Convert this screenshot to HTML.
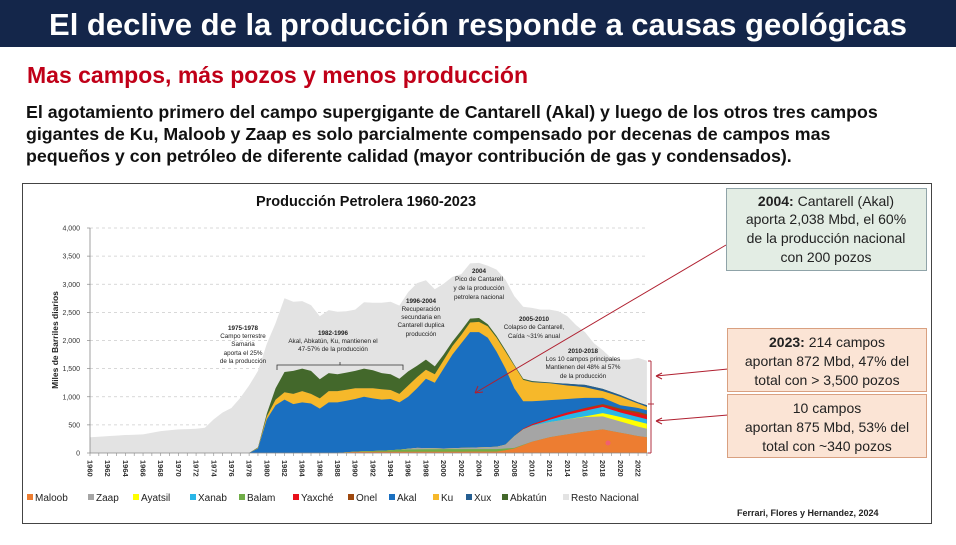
<!DOCTYPE html>
<html><head><meta charset="utf-8"><style>
body{margin:0;width:956px;height:540px;overflow:hidden;background:#fff;font-family:"Liberation Sans",sans-serif}
</style></head><body>
<svg id="s" width="956" height="540" xmlns="http://www.w3.org/2000/svg" font-family="Liberation Sans, sans-serif">
<rect x="0" y="0" width="956" height="47" fill="#14264a"/>
<text x="478" y="35" text-anchor="middle" fill="#fff" font-size="31" font-weight="bold">El declive de la producción responde a causas geológicas</text>
<text x="27" y="83" fill="#c00018" font-size="23" font-weight="bold">Mas campos, más pozos y menos producción</text>
<g font-size="17.8" font-weight="bold" fill="#111">
<text x="26" y="118">El agotamiento primero del campo supergigante de Cantarell (Akal) y luego de los otros tres campos</text>
<text x="26" y="140">gigantes de Ku, Maloob y Zaap es solo parcialmente compensado por decenas de campos mas</text>
<text x="26" y="162">pequeños y con petróleo de diferente calidad (mayor contribución de gas y condensados).</text>
</g>
<rect x="22.5" y="183.5" width="909" height="340" fill="#fff" stroke="#444" stroke-width="1"/>
<text x="366" y="206" text-anchor="middle" font-size="14.5" font-weight="bold" fill="#111">Producción Petrolera 1960-2023</text>
<g id="grid"></g>
<g id="areas"></g>
<g id="axes"></g>
<g font-size="6.3" fill="#222" text-anchor="middle">
<text x="243" y="330" font-weight="bold">1975-1978</text><text x="243" y="338">Campo terrestre</text><text x="243" y="346">Samaria</text><text x="243" y="355">aporta el 25%</text><text x="243" y="363">de la producción</text>
<text x="333" y="335" font-weight="bold">1982-1996</text><text x="333" y="343">Akal, Abkatún, Ku, mantienen el</text><text x="333" y="351">47-57% de la producción</text>
<text x="421" y="303" font-weight="bold">1996-2004</text><text x="421" y="311">Recuperación</text><text x="421" y="319">secundaria en</text><text x="421" y="327">Cantarell duplica</text><text x="421" y="336">producción</text>
<text x="479" y="273" font-weight="bold">2004</text><text x="479" y="281">Pico de Cantarell</text><text x="479" y="290">y de la producción</text><text x="479" y="299">petrolera nacional</text>
<text x="534" y="321" font-weight="bold">2005-2010</text><text x="534" y="329">Colapso de Cantarell,</text><text x="534" y="338">Caída ~31% anual</text>
<text x="583" y="353" font-weight="bold">2010-2018</text><text x="583" y="361">Los 10 campos principales</text><text x="583" y="369">Mantienen del 48% al 57%</text><text x="583" y="378">de la producción</text>
</g>
<path d="M277 370V365H403V370M340 365V362" fill="none" stroke="#333" stroke-width="0.8"/>
<path d="M651 361V453M648 361H651M648 404H654M648 453H651" fill="none" stroke="#b03040" stroke-width="1"/>
<g stroke="#b02030" stroke-width="1" fill="none">
<path d="M726 245L475 393M475 393l8-1M475 393l3-7"/>
<path d="M728 369L656 376M656 376l6-3M656 376l6 3"/>
<path d="M728 415L656 421M656 421l6-3M656 421l6 3"/>
</g>
<rect x="726.5" y="188.5" width="200" height="82" fill="#e3ede4" stroke="#8fa3a8"/>
<g font-size="14" fill="#222" text-anchor="middle">
<text x="826" y="206"><tspan font-weight="bold">2004:</tspan> Cantarell (Akal)</text>
<text x="826" y="224">aporta 2,038 Mbd, el 60%</text>
<text x="826" y="243">de la producción nacional</text>
<text x="826" y="262">con 200 pozos</text>
</g>
<rect x="727.5" y="328.5" width="199" height="63" fill="#fbe4d5" stroke="#d9a080"/>
<rect x="727.5" y="394.5" width="199" height="63" fill="#fbe4d5" stroke="#d9a080"/>
<g font-size="14" fill="#222" text-anchor="middle">
<text x="827" y="347"><tspan font-weight="bold">2023:</tspan> 214 campos</text>
<text x="827" y="366">aportan 872 Mbd, 47% del</text>
<text x="827" y="385">total con &gt; 3,500 pozos</text>
<text x="827" y="413">10 campos</text>
<text x="827" y="432">aportan 875 Mbd, 53% del</text>
<text x="827" y="451">total con ~340 pozos</text>
</g>
<g id="legend" font-size="10" fill="#222"></g>
<text x="737" y="516" font-size="9" font-weight="bold" fill="#222">Ferrari, Flores y Hernandez, 2024</text>
<text transform="translate(58,340) rotate(-90)" text-anchor="middle" font-size="8.5" font-weight="bold" fill="#222">Miles de Barriles diarios</text>
</svg>
<script>
const NS="http://www.w3.org/2000/svg";
const X=y=>90+(y-1960)*8.84, Y=v=>453-v*0.05625;
function el(p,t,a,txt){const e=document.createElementNS(NS,t);for(const k in a)e.setAttribute(k,a[k]);if(txt!=null)e.textContent=txt;document.getElementById(p).appendChild(e);return e;}
function interp(k){const ys=Object.keys(k).map(Number).sort((a,b)=>a-b);const out=[];for(let y=1960;y<=2023;y++){let v;if(y<=ys[0])v=k[ys[0]];else if(y>=ys[ys.length-1])v=k[ys[ys.length-1]];else{for(let i=0;i<ys.length-1;i++)if(y>=ys[i]&&y<=ys[i+1]){const t=(y-ys[i])/(ys[i+1]-ys[i]);v=k[ys[i]]+(k[ys[i+1]]-k[ys[i]])*t;break;}}out.push(v);}return out;}
const L=[
["#ed7d31",{1960:0,1988:0,1990:20,2006:25,2007:50,2008:80,2010:200,2012:280,2014:330,2016:380,2018:420,2020:360,2022:300,2023:280}],
["#70ad47",{1960:0,1988:0,1990:25,1993:40,1995:60,2000:70,2006:70,2008:90,2010:200,2012:280,2014:330,2016:380,2018:420,2020:360,2022:300,2023:280}],
["#a5a5a5",{1960:0,1988:0,1990:25,1993:40,1995:60,1997:90,2000:80,2004:100,2006:110,2007:150,2008:300,2009:420,2010:480,2012:550,2014:600,2016:640,2018:650,2020:560,2022:470,2023:430}],
["#ffff00",{1960:0,2007:0,2008:300,2009:420,2010:480,2012:550,2014:600,2016:650,2018:710,2020:640,2022:560,2023:520}],
["#29b6e8",{1960:0,2007:0,2008:300,2009:420,2010:490,2012:590,2014:680,2016:750,2018:820,2020:720,2022:640,2023:600}],
["#e8101a",{1960:0,2007:0,2008:300,2009:430,2010:510,2012:620,2014:720,2016:790,2018:850,2020:760,2022:700,2023:660}],
["#9e480e",{1960:0,2007:0,2008:300,2009:430,2010:510,2012:620,2014:720,2016:800,2018:870,2020:790,2022:730,2023:690}],
["#1a6fc0",{1960:0,1978:0,1979:80,1980:600,1981:850,1982:950,1983:870,1984:900,1985:880,1986:790,1987:900,1988:900,1989:930,1990:960,1991:1000,1992:970,1993:950,1994:960,1995:900,1996:1000,1997:1150,1998:1320,1999:1250,2000:1500,2001:1750,2002:1950,2003:2150,2004:2150,2005:2050,2006:1800,2007:1500,2008:1150,2009:920,2010:920,2012:940,2014:960,2016:980,2018:980,2020:850,2022:800,2023:760}],
["#f6b82a",{1960:0,1978:0,1979:90,1980:650,1981:950,1982:1080,1983:1050,1984:1100,1985:1050,1986:970,1987:1100,1988:1100,1990:1150,1992:1150,1994:1120,1995:1050,1996:1200,1997:1350,1998:1480,1999:1400,2000:1650,2001:1900,2002:2100,2003:2320,2004:2330,2005:2250,2006:2050,2007:1800,2008:1550,2009:1300,2010:1260,2012:1240,2014:1200,2016:1170,2018:1100,2020:1000,2022:880,2023:820}],
["#255e91",{1960:0,1978:0,1979:90,1980:650,2009:1300,2010:1270,2012:1250,2014:1230,2016:1210,2018:1140,2020:1030,2022:900,2023:850}],
["#43682b",{1960:0,1978:0,1979:100,1980:700,1981:1150,1982:1440,1983:1460,1984:1500,1985:1460,1986:1310,1987:1420,1988:1400,1990:1460,1991:1500,1992:1470,1993:1420,1994:1400,1995:1320,1996:1450,1997:1550,1998:1660,1999:1540,2000:1750,2001:1980,2002:2180,2003:2390,2004:2400,2005:2290,2006:2080,2007:1830,2008:1570,2009:1320,2010:1280,2012:1255,2014:0}],
["#e3e3e3",{1960:280,1962:300,1964:320,1966:330,1968:390,1970:420,1972:430,1973:450,1974:600,1975:720,1976:800,1977:980,1978:1200,1979:1460,1980:1940,1981:2310,1982:2750,1983:2690,1984:2700,1985:2630,1986:2430,1987:2540,1988:2510,1989:2520,1990:2550,1991:2680,1992:2670,1993:2670,1994:2690,1995:2620,1996:2860,1997:3020,1998:3070,1999:2910,2000:3010,2001:3130,2002:3180,2003:3370,2004:3380,2005:3330,2006:3260,2007:3080,2008:2790,2009:2600,2010:2580,2011:2550,2012:2550,2013:2520,2014:2430,2015:2270,2016:2150,2017:1950,2018:1830,2019:1680,2020:1660,2021:1660,2022:1690,2023:1640}]
];
for(let v=500;v<=4000;v+=500)el("grid","line",{x1:90,x2:648,y1:Y(v),y2:Y(v),stroke:"#ccc","stroke-dasharray":"3,3","stroke-width":0.7});
let prev=new Array(64).fill(0);const tops=[];
L.forEach(([c,k])=>{let t=interp(k).map((v,i)=>Math.max(v,prev[i]));tops.push([c,t]);prev=t;});
for(let i=tops.length-1;i>=0;i--){const [c,t]=tops[i];let d="M"+X(1960)+" "+Y(0);t.forEach((v,j)=>d+="L"+X(1960+j).toFixed(1)+" "+Y(v).toFixed(1));d+="L"+X(2023)+" "+Y(0)+"Z";el("areas","path",{d,fill:c});}
el("areas","circle",{cx:608,cy:443,r:2.5,fill:"#f06070"});
el("axes","line",{x1:90,x2:90,y1:Y(4000),y2:453,stroke:"#888","stroke-width":0.8});
el("axes","line",{x1:90,x2:648,y1:453,y2:453,stroke:"#888","stroke-width":0.8});
for(let v=0;v<=4000;v+=500){el("axes","text",{x:80,y:Y(v)+2.5,"text-anchor":"end","font-size":7,fill:"#333"},v.toLocaleString("en-US"));el("axes","line",{x1:87,x2:90,y1:Y(v),y2:Y(v),stroke:"#888","stroke-width":0.7});}
for(let y=1960;y<=2023;y++){el("axes","line",{x1:X(y),x2:X(y),y1:453,y2:456,stroke:"#888","stroke-width":0.6});if(y%2==0)el("axes","text",{transform:`translate(${X(y)-2.5},460) rotate(90)`,"font-size":7.5,"font-weight":"bold",fill:"#333"},y);}
const lg=[["#ed7d31","Maloob",27],["#a5a5a5","Zaap",88],["#ffff00","Ayatsil",133],["#29b6e8","Xanab",190],["#70ad47","Balam",239],["#e8101a","Yaxché",293],["#9e480e","Onel",348],["#1a6fc0","Akal",389],["#f6b82a","Ku",433],["#255e91","Xux",466],["#43682b","Abkatún",502],["#e3e3e3","Resto Nacional",563]];
lg.forEach(([c,n,x])=>{el("legend","rect",{x:x,y:494,width:6,height:6,fill:c});el("legend","text",{x:x+8,y:501},n);});
</script>
</body></html>
